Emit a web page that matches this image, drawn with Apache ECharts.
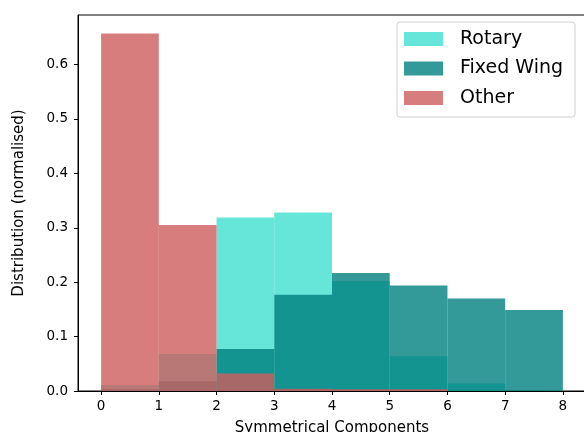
<!DOCTYPE html>
<html>
<head>
<meta charset="utf-8">
<script src="https://cdn.jsdelivr.net/npm/echarts@6/dist/echarts.min.js"></script>
<style>html,body{margin:0;padding:0;background:#fff}#c{width:584px;height:432px}</style>
</head>
<body>
<div id="c"></div>
<script>
const binEdges = [0, 1, 2, 3, 4, 5, 6, 7, 8];
const rotary = [0.011, 0.068, 0.319, 0.328, 0.202, 0.064, 0.014, 0.0];
const fixedWing = [0.003, 0.018, 0.077, 0.177, 0.217, 0.194, 0.170, 0.149];
const other = [0.657, 0.305, 0.032, 0.004, 0.003, 0.003, 0.0, 0.0];
const xTicks = [0, 1, 2, 3, 4, 5, 6, 7, 8];
const yTicks = [0, 0.1, 0.2, 0.3, 0.4, 0.5, 0.6];

const FONT = 'DejaVu Sans';
function toData(vals) {
  return vals.map((v, i) => [binEdges[i], binEdges[i + 1], v]);
}
function renderItem(params, api) {
  const p0 = api.coord([api.value(0), api.value(2)]);
  const p1 = api.coord([api.value(1), 0]);
  return {
    type: 'rect',
    shape: { x: p0[0], y: p0[1], width: p1[0] - p0[0], height: p1[1] - p0[1] },
    style: { fill: api.visual('color') }
  };
}
function hist(name, vals, color) {
  return {
    name: name,
    type: 'custom',
    renderItem: renderItem,
    data: toData(vals),
    itemStyle: { color: color },
    encode: { x: [0, 1], y: 2 },
    animation: false
  };
}
const chart = echarts.init(document.getElementById('c'), null, { renderer: 'canvas' });
chart.setOption({
  animation: false,
  textStyle: { fontFamily: FONT },
  grid: {
    left: 78, top: 15, right: -2, bottom: 41,
    outerBoundsMode: 'none', containLabel: false,
    show: true, borderColor: '#000', borderWidth: 1, backgroundColor: 'transparent'
  },
  xAxis: {
    type: 'value', min: -0.4, max: 8.4,
    name: 'Symmetrical Components', nameLocation: 'middle', nameGap: 30,
    nameTextStyle: { fontFamily: FONT, fontSize: 15, color: '#000' },
    axisLine: { show: true, onZero: false, lineStyle: { color: '#000', width: 1 } },
    axisTick: { show: true, length: 4, lineStyle: { color: '#000' }, customValues: xTicks },
    axisLabel: { customValues: xTicks, fontFamily: FONT, fontSize: 13.5, color: '#000', margin: 8 },
    splitLine: { show: false }
  },
  yAxis: {
    type: 'value', min: 0, max: 0.691,
    name: 'Distribution (normalised)', nameLocation: 'middle', nameGap: 51,
    nameTextStyle: { fontFamily: FONT, fontSize: 15, color: '#000' },
    axisLine: { show: true, onZero: false, lineStyle: { color: '#000', width: 1 } },
    axisTick: { show: true, length: 4, lineStyle: { color: '#000' }, customValues: yTicks },
    axisLabel: { customValues: yTicks, fontFamily: FONT, fontSize: 13.5, color: '#000', margin: 10,
      formatter: v => v.toFixed(1) },
    splitLine: { show: false }
  },
  legend: {
    orient: 'vertical', left: 397, top: 22,
    icon: 'rect', itemWidth: 39, itemHeight: 14, itemGap: 9.5,
    padding: [7, 12, 9, 7],
    borderColor: '#d0d0d0', borderWidth: 1, borderRadius: 3, backgroundColor: 'rgba(255,255,255,0.8)',
    textStyle: { fontFamily: FONT, fontSize: 19, color: '#000', lineHeight: 20, padding: [0, 0, 0, 12] },
    data: ['Rotary', 'Fixed Wing', 'Other']
  },
  series: [
    hist('Rotary', rotary, 'rgba(64,224,208,0.8)'),
    hist('Fixed Wing', fixedWing, 'rgba(0,128,128,0.8)'),
    hist('Other', other, 'rgba(205,92,92,0.8)')
  ]
});
</script>
</body>
</html>
